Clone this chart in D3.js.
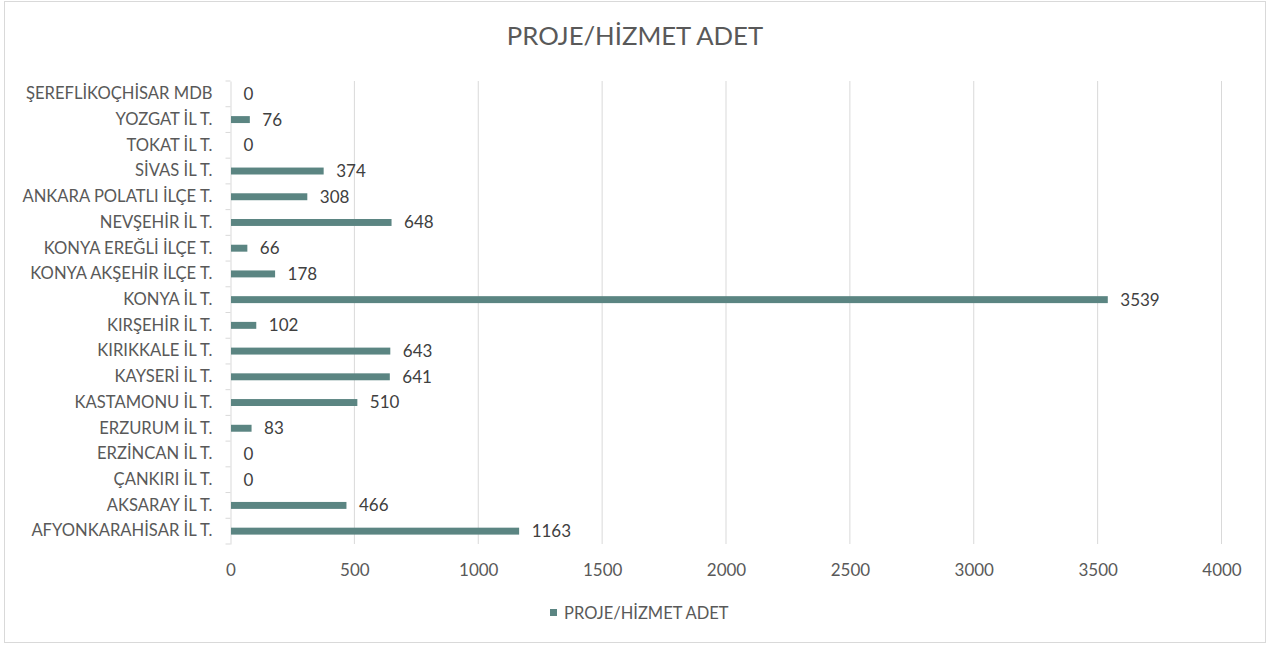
<!DOCTYPE html>
<html>
<head>
<meta charset="utf-8">
<script src="https://cdn.jsdelivr.net/npm/d3@7"></script>
<style>
  body { margin: 0; background: #fff; }
  text { font-family: Lato, "Open Sans", sans-serif; }
</style>
</head>
<body>
<div id="chart"></div>
<script>
// chart data, bottom to top as in the picture
var categories = ["AFYONKARAHİSAR İL T.", "AKSARAY İL T.", "ÇANKIRI İL T.", "ERZİNCAN İL T.",
  "ERZURUM İL T.", "KASTAMONU İL T.", "KAYSERİ İL T.", "KIRIKKALE İL T.", "KIRŞEHİR İL T.",
  "KONYA İL T.", "KONYA AKŞEHİR İLÇE T.", "KONYA EREĞLİ İLÇE T.", "NEVŞEHİR İL T.",
  "ANKARA POLATLI İLÇE T.", "SİVAS İL T.", "TOKAT İL T.", "YOZGAT İL T.", "ŞEREFLİKOÇHİSAR MDB"];
var values = [1163, 466, 0, 0, 83, 510, 641, 643, 102, 3539, 178, 66, 648, 308, 374, 0, 76, 0];
var xTicks = [0, 500, 1000, 1500, 2000, 2500, 3000, 3500, 4000];
var seriesName = "PROJE/HİZMET ADET";
var title = "PROJE/HİZMET ADET";

var width = 1270, height = 646;
var margin = {left: 230.5, right: 48.5, top: 81, bottom: 102};
var barColor = "#5b8582";

var svg = d3.select("#chart").append("svg")
  .attr("width", width)
  .attr("height", height);

// outer frame
svg.append("rect")
  .attr("x", 4.5).attr("y", 1.5)
  .attr("width", 1261).attr("height", 641)
  .attr("fill", "#fff")
  .attr("stroke", "#d9d9d9");

var x = d3.scaleLinear()
  .domain([0, 4000])
  .range([margin.left, width - margin.right]);

// top category first
var y = d3.scaleBand()
  .domain(categories.slice().reverse())
  .range([margin.top, height - margin.bottom])
  .paddingInner(0.73)
  .paddingOuter(0.365);

// gridlines
svg.append("g").selectAll("line")
  .data(xTicks.slice(1))
  .enter().append("line")
  .attr("x1", function(d) { return x(d); })
  .attr("x2", function(d) { return x(d); })
  .attr("y1", margin.top)
  .attr("y2", height - margin.bottom)
  .attr("stroke", "#d9d9d9")
  .attr("stroke-width", 1);

// x labels
var xAxis = svg.append("g")
  .attr("transform", "translate(0," + (height - margin.bottom + 1) + ")")
  .call(d3.axisBottom(x).tickValues(xTicks).tickFormat(d3.format("d")).tickSize(0).tickPadding(19));
xAxis.select(".domain").remove();
xAxis.selectAll("text")
  .attr("fill", "#595959")
  .style("font-size", "17px");

// category axis
var yAxis = svg.append("g")
  .attr("transform", "translate(" + margin.left + ",0)")
  .call(d3.axisLeft(y).tickSize(0).tickPadding(18));
yAxis.select(".domain")
  .attr("stroke", "#d9d9d9");
yAxis.selectAll("text")
  .attr("fill", "#595959")
  .style("font-size", "16.6px");

// boundary tick marks on the category axis
var bounds = d3.range(categories.length + 1).map(function(i) { return margin.top + i * (height - margin.top - margin.bottom) / categories.length; });
svg.append("g").selectAll("line")
  .data(bounds)
  .enter().append("line")
  .attr("x1", margin.left - 5)
  .attr("x2", margin.left)
  .attr("y1", function(d) { return d; })
  .attr("y2", function(d) { return d; })
  .attr("stroke", "#d9d9d9");

// bars
svg.append("g").selectAll("rect")
  .data(values)
  .enter().append("rect")
  .attr("x", x(0) + 0.5)
  .attr("y", function(d, i) { return y(categories[i]); })
  .attr("width", function(d) { return Math.max(0, x(d) - x(0)); })
  .attr("height", y.bandwidth())
  .attr("fill", barColor);

// value labels
svg.append("g").selectAll("text")
  .data(values)
  .enter().append("text")
  .attr("x", function(d) { return x(d) + 13; })
  .attr("y", function(d, i) { return y(categories[i]) + y.bandwidth() / 2; })
  .attr("dy", "0.35em")
  .attr("fill", "#404040")
  .style("font-size", "17px")
  .text(function(d) { return d; });

// title
svg.append("text")
  .attr("x", 635)
  .attr("y", 45)
  .attr("text-anchor", "middle")
  .attr("fill", "#595959")
  .style("font-size", "25.7px")
  .text(title);

// legend
var legend = svg.append("g").attr("transform", "translate(550,613)");
legend.append("rect")
  .attr("x", 0).attr("y", -4)
  .attr("width", 7).attr("height", 7)
  .attr("fill", barColor);
legend.append("text")
  .attr("x", 14)
  .attr("y", 0)
  .attr("dy", "0.35em")
  .attr("fill", "#595959")
  .style("font-size", "16.5px")
  .text(seriesName);
</script>
</body>
</html>
